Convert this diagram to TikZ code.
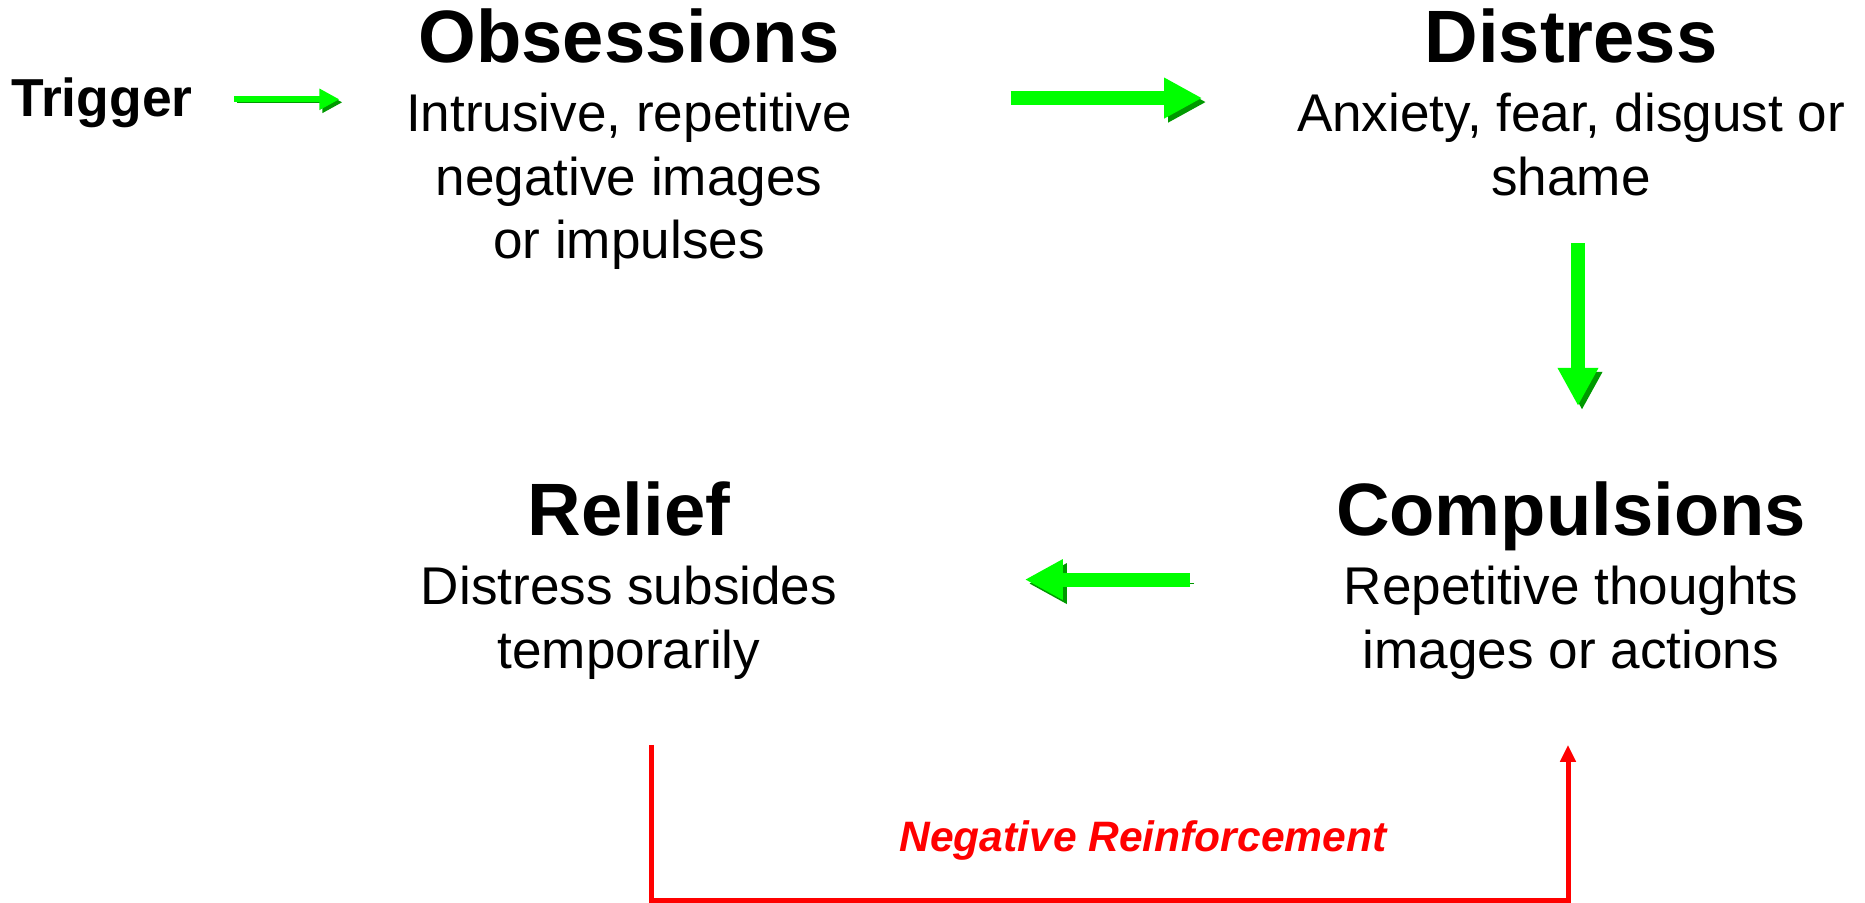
\documentclass[tikz,border=0pt]{standalone}
\usepackage{fontspec}
\setmainfont{Liberation Sans}
\usetikzlibrary{arrows.meta,positioning}
\definecolor{gbright}{HTML}{00FF00}
\definecolor{gdark}{HTML}{009900}
\definecolor{nred}{HTML}{FF0000}
\newcommand{\ttl}[1]{{\fontsize{21.1}{25}\selectfont\bfseries #1}}

\begin{document}
\begin{tikzpicture}[x=0.01cm, y=-0.01cm,
		block/.style={align=center, inner sep=0pt, anchor=north, font=\fontsize{15.1}{18.1}\selectfont},
		trig/.style={inner sep=0pt, anchor=base, font=\fontsize{15.2}{18}\selectfont\bfseries},
		flow/.style={draw=gbright, line width=0.14cm, -{Triangle[length=0.38cm,width=0.38cm]},
			preaction={draw=gdark, transform canvas={xshift=0.04cm,yshift=-0.04cm}}},
		smallflow/.style={draw=gbright, line width=0.06cm, -{Triangle[length=0.2cm,width=0.2cm]},
			preaction={draw=gdark, transform canvas={xshift=0.03cm,yshift=-0.03cm}}},
		reinf/.style={draw=nred, line width=0.05cm, -{Triangle[length=0.17cm,width=0.15cm]}},
		mylabel/.style={inner sep=0pt, text=nred, font=\fontsize{12.1}{14.5}\selectfont\bfseries\itshape}
		]
		\useasboundingbox (0,0) rectangle (1865,902);
		\node[trig] (trg) at (102,116) {Trigger};
		\node[block] (obs) at (629,8) {\ttl{Obsessions}\\[1.5pt]Intrusive, repetitive\\negative images\\or impulses};
		\node[block] (dis) at (1571,8) {\ttl{Distress}\\[1.5pt]Anxiety, fear, disgust or\\shame};
		\node[block] (cmp) at (1571,481) {\ttl{Compulsions}\\[1.5pt]Repetitive thoughts\\images or actions};
		\node[block] (rel) at (629,481) {\ttl{Relief}\\[1.5pt]Distress subsides\\temporarily};
		\node[mylabel] (neg) at (1143,840) {Negative Reinforcement};
		
		\draw[smallflow, shorten <=0.41cm, shorten >=0.66cm] ([yshift=0.03cm]trg.east) -- ([yshift=0.03cm]trg.east -| obs.west);
		\draw[flow, shorten <=1.58cm, shorten >=0.94cm] ([yshift=-0.9cm]obs.north east) -- ([yshift=-0.9cm]dis.north west);
		\draw[flow, shorten <=0.47cm, shorten >=0.75cm] ([xshift=0.07cm]dis.south) -- ([xshift=0.07cm]dis.south |- cmp.north);
		\draw[flow, shorten <=1.45cm, shorten >=1.87cm] ([yshift=-0.985cm]cmp.north west) -- ([yshift=-0.985cm]rel.north east);
		
		\draw[reinf, shorten <=0.65cm, shorten >=0.65cm] ([xshift=0.22cm]rel.south) -- ++(0,221) -| ([xshift=-0.03cm]cmp.south);
		
\end{tikzpicture}
\end{document}
